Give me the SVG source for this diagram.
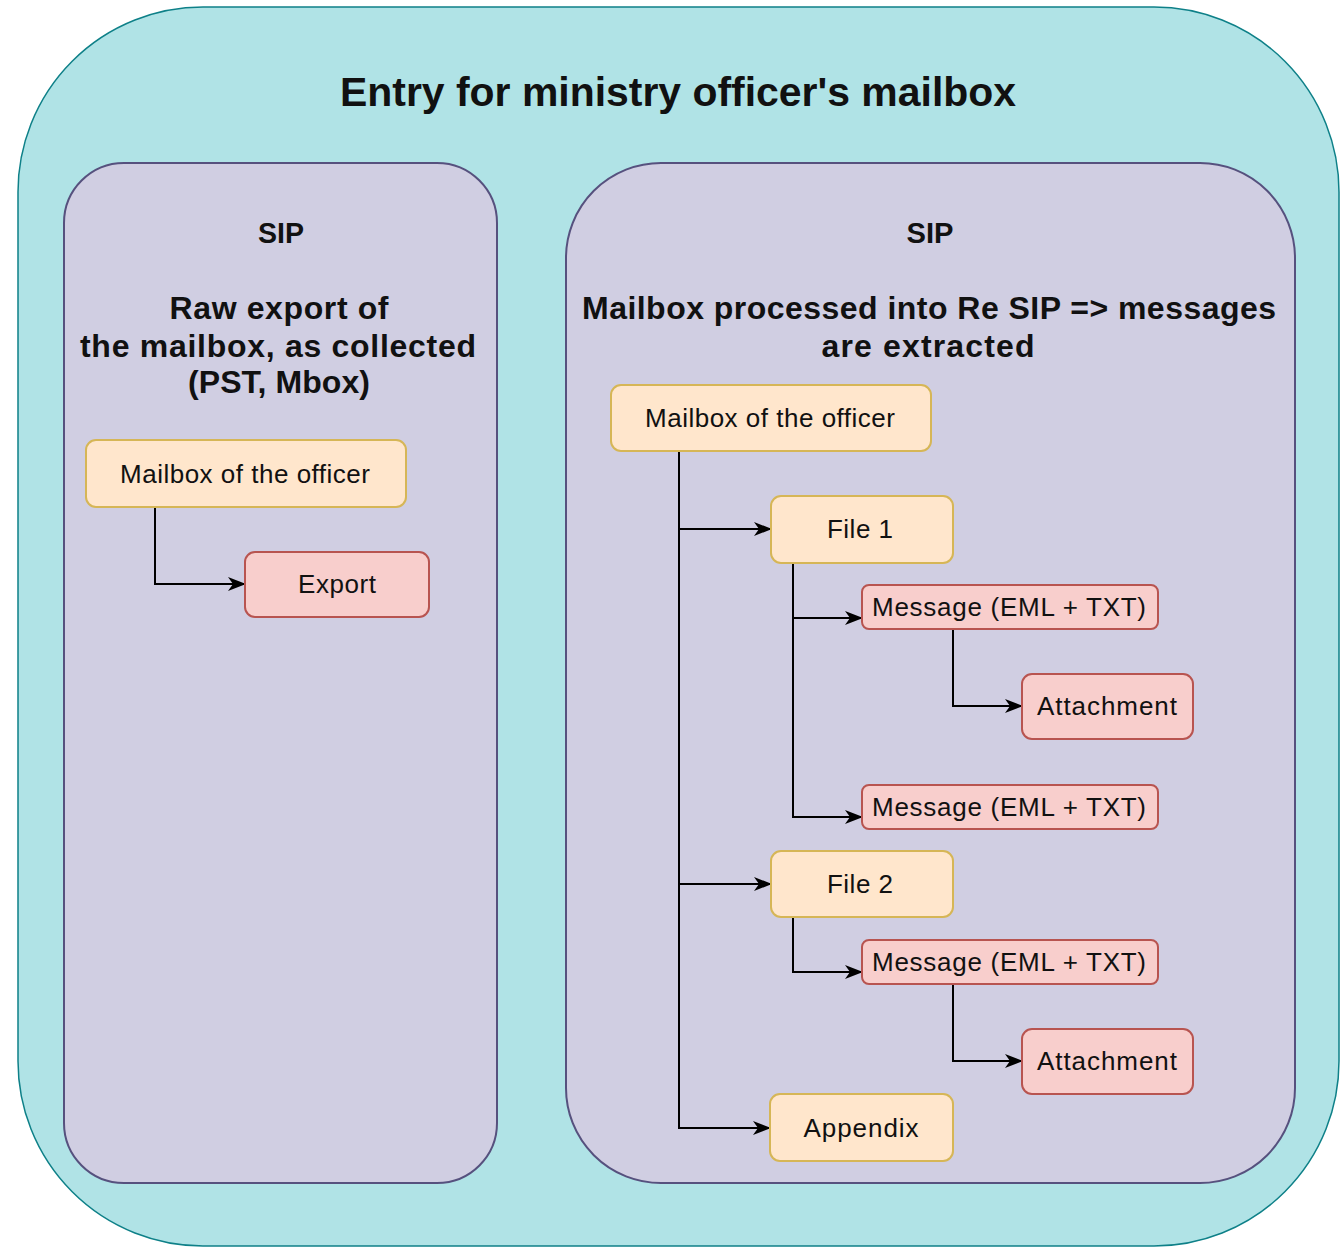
<svg xmlns="http://www.w3.org/2000/svg" width="1340" height="1247" viewBox="0 0 1340 1247">
  <defs>
    <marker id="arrow" viewBox="0 0 18 14" markerWidth="18" markerHeight="14" refX="17" refY="7" orient="auto" markerUnits="userSpaceOnUse">
      <path d="M0,0 L18,7 L0,14 L5,7 Z" fill="#000000"/>
    </marker>
  </defs>
  <style>
    .outer { fill: #b0e3e6; stroke: #0e8088; stroke-width: 1.5; }
    .panel { fill: #d0cee2; stroke: #56517e; stroke-width: 2; }
    .yellow { fill: #ffe6cc; stroke: #d6b656; stroke-width: 2; }
    .red { fill: #f8cecc; stroke: #b85450; stroke-width: 2; }
    .edge { fill: none; stroke: #000000; stroke-width: 2; marker-end: url(#arrow); }
    text { font-family: "Liberation Sans", Arial, sans-serif; fill: #111111; text-anchor: middle; }
    .title { font-size: 40px; font-weight: bold; }
    .head { font-size: 29px; font-weight: bold; }
    .sub { font-size: 32px; font-weight: bold; }
    .lbl { font-size: 26px; }
  </style>

  <g id="container">
    <rect class="outer" x="18" y="7" width="1321" height="1239" rx="185" ry="185"/>
    <text class="title" x="678" y="106" textLength="676" lengthAdjust="spacingAndGlyphs">Entry for ministry officer's mailbox</text>
  </g>

  <g id="sip-left">
    <rect class="panel" x="64" y="163" width="433" height="1020" rx="60" ry="60"/>
    <text class="head" x="281" y="243" textLength="46" lengthAdjust="spacingAndGlyphs">SIP</text>
    <text class="sub" x="279" y="319" textLength="219" lengthAdjust="spacing">Raw export of</text>
    <text class="sub" x="278" y="357" textLength="396" lengthAdjust="spacing">the mailbox, as collected</text>
    <text class="sub" x="279" y="393" textLength="182" lengthAdjust="spacing">(PST, Mbox)</text>
  </g>

  <g id="sip-right">
    <rect class="panel" x="566" y="163" width="729" height="1020" rx="95" ry="95"/>
    <text class="head" x="930" y="243" textLength="47" lengthAdjust="spacingAndGlyphs">SIP</text>
    <text class="sub" x="929" y="319" textLength="694" lengthAdjust="spacing">Mailbox processed into Re SIP =&gt; messages</text>
    <text class="sub" x="928" y="357" textLength="213" lengthAdjust="spacing">are extracted</text>
  </g>

  <g id="connectors">
    <path class="edge" d="M155,507 V584 H245"/>
    <path class="edge" d="M679,451 V529 H771"/>
    <path class="edge" d="M679,451 V884 H771"/>
    <path class="edge" d="M679,451 V1128 H770"/>
    <path class="edge" d="M793,563 V618 H862"/>
    <path class="edge" d="M793,563 V817 H862"/>
    <path class="edge" d="M953,629 V706 H1022"/>
    <path class="edge" d="M793,917 V972 H862"/>
    <path class="edge" d="M953,984 V1061 H1022"/>
  </g>

  <g id="left-mailbox">
    <rect class="yellow" x="86" y="440" width="320" height="67" rx="10" ry="10"/>
    <text class="lbl" x="245" y="483" textLength="250" lengthAdjust="spacing">Mailbox of the officer</text>
  </g>
  <g id="left-export">
    <rect class="red" x="245" y="552" width="184" height="65" rx="10" ry="10"/>
    <text class="lbl" x="337" y="593" textLength="78" lengthAdjust="spacing">Export</text>
  </g>

  <g id="right-mailbox">
    <rect class="yellow" x="611" y="385" width="320" height="66" rx="10" ry="10"/>
    <text class="lbl" x="770" y="427" textLength="250" lengthAdjust="spacing">Mailbox of the officer</text>
  </g>
  <g id="file1">
    <rect class="yellow" x="771" y="496" width="182" height="67" rx="10" ry="10"/>
    <text class="lbl" x="860" y="538" textLength="66" lengthAdjust="spacing">File 1</text>
  </g>
  <g id="message1">
    <rect class="red" x="862" y="585" width="296" height="44" rx="7" ry="7"/>
    <text class="lbl" x="1009" y="616" textLength="274" lengthAdjust="spacing">Message (EML + TXT)</text>
  </g>
  <g id="attachment1">
    <rect class="red" x="1022" y="674" width="171" height="65" rx="10" ry="10"/>
    <text class="lbl" x="1107" y="715" textLength="140" lengthAdjust="spacing">Attachment</text>
  </g>
  <g id="message2">
    <rect class="red" x="862" y="785" width="296" height="44" rx="7" ry="7"/>
    <text class="lbl" x="1009" y="816" textLength="274" lengthAdjust="spacing">Message (EML + TXT)</text>
  </g>
  <g id="file2">
    <rect class="yellow" x="771" y="851" width="182" height="66" rx="10" ry="10"/>
    <text class="lbl" x="860" y="893" textLength="66" lengthAdjust="spacing">File 2</text>
  </g>
  <g id="message3">
    <rect class="red" x="862" y="940" width="296" height="44" rx="7" ry="7"/>
    <text class="lbl" x="1009" y="971" textLength="274" lengthAdjust="spacing">Message (EML + TXT)</text>
  </g>
  <g id="attachment2">
    <rect class="red" x="1022" y="1029" width="171" height="65" rx="10" ry="10"/>
    <text class="lbl" x="1107" y="1070" textLength="140" lengthAdjust="spacing">Attachment</text>
  </g>
  <g id="appendix">
    <rect class="yellow" x="770" y="1094" width="183" height="67" rx="10" ry="10"/>
    <text class="lbl" x="861" y="1137" textLength="115" lengthAdjust="spacing">Appendix</text>
  </g>
</svg>
